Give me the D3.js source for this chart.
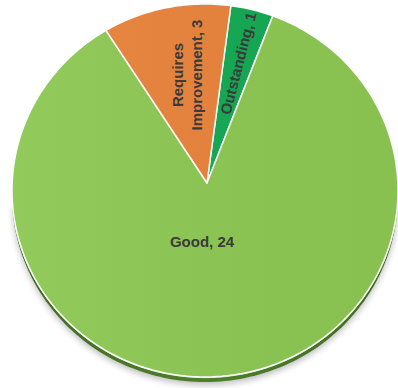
<!DOCTYPE html>
<html>
<head>
<meta charset="utf-8">
<script src="https://cdn.jsdelivr.net/npm/d3@7"></script>
<style>
  html, body { margin: 0; padding: 0; background: #fff; }
  svg { display: block; }
</style>
</head>
<body>
<svg id="chart" width="398" height="388"></svg>
<script>
// Inspection ratings
const categories = ["Outstanding", "Good", "Requires Improvement"];
const counts = [1, 24, 3];
const palette = ["#13a952", "#8cc752", "#e8823a"];

const W = 398, H = 388;
const svg = d3.select("#chart");

// Tilted disc: rim is an ellipse, the slice apex sits a little above its centre
const cx = 205, cy = 190.5, rx = 193, ry = 186.5;
const apex = [207, 183];
const depth = 5;
const deg = Math.PI / 180;

const rim = (a, dy = 0) => [cx + rx * Math.sin(a), cy - ry * Math.cos(a) + dy];

const color = d3.scaleOrdinal().domain(categories).range(palette);

const start = 7.7 * deg;
const pie = d3.pie().sort(null).value(d => d.value)
  .startAngle(start).endAngle(start + 2 * Math.PI);
const arcs = pie(categories.map((c, i) => ({ name: c, value: counts[i] })));

const defs = svg.append("defs");
defs.append("filter").attr("id", "soft")
  .attr("x", "-20%").attr("y", "-20%").attr("width", "140%").attr("height", "140%")
  .append("feGaussianBlur").attr("stdDeviation", 3);

const sideGrad = defs.append("linearGradient").attr("id", "side")
  .attr("x1", 0).attr("x2", 1).attr("y1", 0).attr("y2", 0);
sideGrad.append("stop").attr("offset", "0%").attr("stop-color", "#3f6a22");
sideGrad.append("stop").attr("offset", "50%").attr("stop-color", "#507f2c");
sideGrad.append("stop").attr("offset", "100%").attr("stop-color", "#3f6a22");

const shade = defs.append("linearGradient").attr("id", "shade")
  .attr("x1", 0).attr("x2", 1).attr("y1", 0).attr("y2", 0);
shade.append("stop").attr("offset", "0%").attr("stop-color", "#fff").attr("stop-opacity", 0.06);
shade.append("stop").attr("offset", "100%").attr("stop-color", "#000").attr("stop-opacity", 0.03);

const ring = (dy, a0 = 0, a1 = 2 * Math.PI, n = 240) =>
  d3.range(n + 1).map(i => rim(a0 + (a1 - a0) * i / n, dy));

const closed = d3.line().curve(d3.curveLinearClosed);
const open = d3.line();

// soft drop shadow under the disc
svg.append("path")
  .attr("d", closed(ring(depth + 3, 95 * deg, 265 * deg).concat(ring(depth - 4, 265 * deg, 95 * deg).reverse())))
  .attr("fill", "#000").attr("opacity", 0.25).attr("filter", "url(#soft)");

// disc edge
svg.append("path")
  .attr("d", closed(ring(depth)))
  .attr("fill", "url(#side)");

// slices
const slicePts = d => {
  const n = Math.max(8, Math.ceil((d.endAngle - d.startAngle) / (1 * deg)));
  return [apex].concat(d3.range(n + 1).map(i => rim(d.startAngle + (d.endAngle - d.startAngle) * i / n)));
};

svg.append("g").selectAll("path").data(arcs).join("path")
  .attr("d", d => closed(slicePts(d)))
  .attr("fill", d => color(d.data.name))
  .attr("stroke", "#fff").attr("stroke-width", 1.5).attr("stroke-linejoin", "round");

svg.append("path")
  .attr("d", closed(ring(0)))
  .attr("fill", "url(#shade)").attr("pointer-events", "none");

// light highlight along the lower rim
svg.append("path")
  .attr("d", open(ring(0.6, 100 * deg, 260 * deg)))
  .attr("fill", "none").attr("stroke", "#f4f9ee").attr("stroke-width", 1).attr("opacity", 0.9);

// labels
const font = "'Liberation Sans', Arial, sans-serif";
const lerp = (p, q, t) => [p[0] + (q[0] - p[0]) * t, p[1] + (q[1] - p[1]) * t];
const mid = d => (d.startAngle + d.endAngle) / 2;
const labels = svg.append("g").attr("font-family", font).attr("font-weight", "bold")
  .attr("font-size", 15).attr("fill", "#3b3b3b");

arcs.forEach(d => {
  const text = d.data.name + ", " + d.data.value;
  if (d.data.name === "Good") {
    labels.append("text").attr("x", 202).attr("y", 241)
      .attr("text-anchor", "middle").attr("dominant-baseline", "central").text(text);
  } else if (d.data.name === "Outstanding") {
    const r = rim(mid(d));
    const p = lerp(apex, r, 0.69);
    const ang = Math.atan2(r[1] - apex[1], r[0] - apex[0]) / deg;
    labels.append("text")
      .attr("transform", `translate(${p[0]},${p[1]}) rotate(${ang})`)
      .attr("text-anchor", "middle").attr("dominant-baseline", "central").text(text);
  } else {
    const p = [187, 75];
    const t = labels.append("text")
      .attr("transform", `translate(${p[0]},${p[1]}) rotate(-90)`)
      .attr("text-anchor", "middle");
    t.append("tspan").attr("x", 0).attr("y", -9.5).attr("dominant-baseline", "central").text("Requires");
    t.append("tspan").attr("x", 0).attr("y", 9.5).attr("dominant-baseline", "central")
      .text("Improvement, " + d.data.value);
  }
});
</script>
</body>
</html>
